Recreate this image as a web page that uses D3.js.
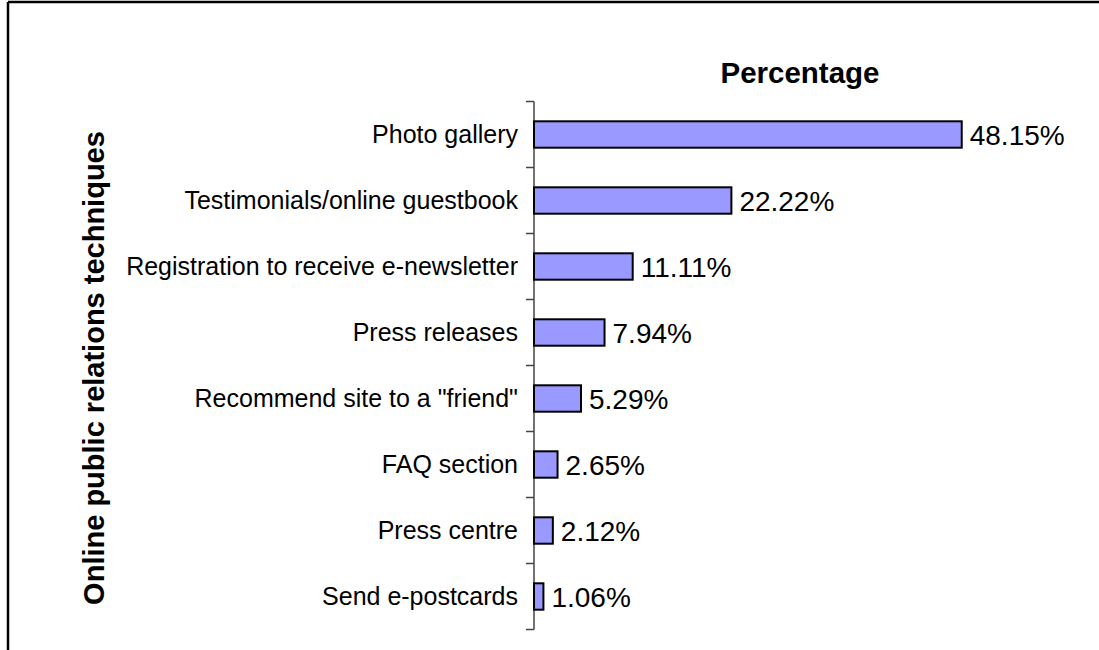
<!doctype html>
<html>
  <head>
    <title>Online public relations techniques</title>
    <script src="https://d3js.org/d3.v7.min.js"></script>
    <style>
      body { margin: 0; background: #fff; }
      text { font-family: 'Liberation Sans', Arial, sans-serif; }
    </style>
  </head>
  <body>
    <svg id="chart" width="1099" height="650"></svg>

    <script>
      var categories = [
        'Photo gallery',
        'Testimonials/online guestbook',
        'Registration to receive e-newsletter',
        'Press releases',
        'Recommend site to a "friend"',
        'FAQ section',
        'Press centre',
        'Send e-postcards'
      ]
      var percentages = [48.15, 22.22, 11.11, 7.94, 5.29, 2.65, 2.12, 1.06]
      var xDomain = [0, 60]

      var data = categories.map((c, i) => ({ name: c, value: percentages[i] }))

      var svg = d3.select('#chart')

      // frame (only top and left edges show in the picture)
      svg.append('line')
        .attr('x1', 8).attr('y1', 2).attr('x2', 1099).attr('y2', 2)
        .attr('stroke', '#000').attr('stroke-width', 2.5)
      svg.append('line')
        .attr('x1', 8).attr('y1', 2).attr('x2', 8).attr('y2', 650)
        .attr('stroke', '#000').attr('stroke-width', 2.5)

      var x = d3.scaleLinear().domain(xDomain).range([534, 1067])
      var y = d3.scaleBand()
        .domain(categories)
        .range([101.5, 629.5])
        .paddingInner(0.6)
        .paddingOuter(0.3)

      // category axis
      var yAxis = svg.append('g')
        .attr('transform', 'translate(534,0)')
        .call(d3.axisLeft(y).tickSize(0).tickPadding(16))
      yAxis.select('.domain').remove()
      yAxis.selectAll('text')
        .attr('font-size', 25)
        .attr('fill', '#000')
        .attr('dy', '0.32em')
        .style('font-family', "'Liberation Sans', Arial, sans-serif")

      // axis line with ticks at category boundaries
      var step = y.step()
      var bounds = d3.range(categories.length + 1).map((i) => 101.5 + i * step)
      var axisG = svg.append('g')
      axisG.append('line')
        .attr('x1', 534).attr('x2', 534)
        .attr('y1', bounds[0]).attr('y2', bounds[bounds.length - 1])
        .attr('stroke', '#444').attr('stroke-width', 1.5)
      axisG.selectAll('.tick-b')
        .data(bounds)
        .enter()
        .append('line')
        .attr('x1', 526).attr('x2', 534)
        .attr('y1', (d) => d).attr('y2', (d) => d)
        .attr('stroke', '#444').attr('stroke-width', 1.5)

      // bars
      svg.selectAll('rect.bar')
        .data(data)
        .enter()
        .append('rect')
        .attr('class', 'bar')
        .attr('x', x(0))
        .attr('y', (d) => y(d.name))
        .attr('width', (d) => x(d.value) - x(0))
        .attr('height', y.bandwidth())
        .attr('fill', '#9999FF')
        .attr('stroke', '#000')
        .attr('stroke-width', 2)

      // value labels
      svg.selectAll('text.val')
        .data(data)
        .enter()
        .append('text')
        .attr('class', 'val')
        .attr('x', (d) => x(d.value) + 8)
        .attr('y', (d) => y(d.name) + y.bandwidth() / 2)
        .attr('dy', '0.36em')
        .attr('font-size', 28)
        .text((d) => d.value.toFixed(2) + '%')

      // titles
      svg.append('text')
        .attr('x', 800)
        .attr('y', 83)
        .attr('text-anchor', 'middle')
        .attr('font-size', 29.5)
        .attr('font-weight', 'bold')
        .text('Percentage')

      svg.append('text')
        .attr('transform', 'translate(104,368) rotate(-90)')
        .attr('text-anchor', 'middle')
        .attr('font-size', 29)
        .attr('font-weight', 'bold')
        .text('Online public relations techniques')
    </script>
  </body>
</html>
